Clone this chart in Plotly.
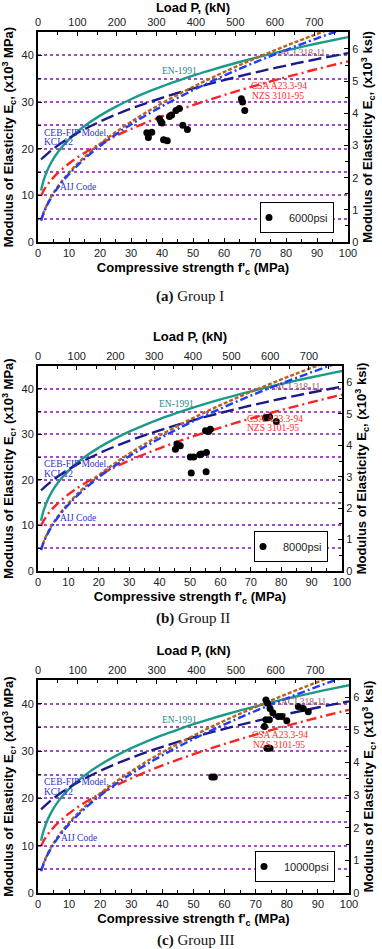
import plotly.graph_objects as go

# ---------------- data ----------------
fc_grid = [1, 1.5, 2, 3, 4, 5, 6, 8, 10, 12, 15, 20, 25, 30, 35, 40, 45, 50,
           55, 60, 65, 70, 75, 80, 85, 90, 95, 100]
aci_318 = [4.70, 5.76, 6.65, 8.14, 9.40, 10.51, 11.51, 13.29, 14.86, 16.28, 18.20,
           21.02, 23.50, 25.74, 27.81, 29.73, 31.53, 33.23, 34.86, 36.41, 37.89,
           39.32, 40.70, 42.04, 43.33, 44.59, 45.81, 47.00]
aij_code = [4.60, 5.63, 6.51, 7.97, 9.20, 10.29, 11.27, 13.01, 14.55, 15.93, 17.82,
            20.57, 23.00, 25.20, 27.21, 29.09, 30.86, 32.53, 34.11, 35.63, 37.09,
            38.49, 39.84, 41.14, 42.41, 43.64, 44.84, 46.00]
csa_nzs = [9.89, 10.61, 11.22, 12.24, 13.10, 13.85, 14.53, 15.74, 16.82, 17.78, 19.09,
           21.01, 22.70, 24.22, 25.63, 26.94, 28.17, 29.32, 30.43, 31.49, 32.50,
           33.47, 34.42, 35.33, 36.20, 37.06, 37.89, 38.70]
ceb_kci = [17.68, 18.00, 18.31, 18.90, 19.46, 19.99, 20.49, 21.42, 22.28, 23.07, 24.17,
           25.81, 27.26, 28.58, 29.78, 30.89, 31.93, 32.90, 33.82, 34.69, 35.52,
           36.32, 37.08, 37.81, 38.51, 39.19, 39.84, 40.48]
en_1991 = [11.03, 12.45, 13.57, 15.33, 16.71, 17.87, 18.87, 20.58, 22.00, 23.24, 24.85,
           27.08, 28.96, 30.59, 32.04, 33.35, 34.54, 35.66, 36.69, 37.66, 38.57,
           39.44, 40.27, 41.05, 41.81, 42.53, 43.23, 43.90]

g1_fc = [35.1, 35.6, 36.7, 39.2, 39.6, 40.0, 40.5, 41.7, 42.4, 43.1, 44.5, 45.6,
         46.7, 48.2, 65.6, 66.0, 66.7]
g1_ec = [23.4, 22.4, 23.5, 26.4, 25.9, 25.5, 21.9, 21.7, 26.9, 27.2, 28.2, 28.6,
         25.0, 24.1, 30.7, 30.0, 28.2]
g2_fc = [45.2, 45.7, 46.8, 50.1, 51.2, 53.2, 53.7, 55.4, 55.1, 56.1, 56.7, 74.8,
         75.5, 76.2, 78.4, 50.4, 55.3]
g2_ec = [26.7, 27.9, 27.5, 25.0, 25.0, 25.5, 25.7, 26.0, 30.8, 30.6, 31.1, 33.6,
         33.7, 33.8, 32.8, 21.5, 21.8]
g3_fc = [73.3, 73.8, 74.6, 75.5, 73.3, 74.4, 77.3, 78.4, 80.0, 83.7, 85.3, 86.9,
         72.8, 73.6, 74.6, 55.9, 56.7]
g3_ec = [40.8, 40.1, 39.0, 38.1, 36.6, 36.6, 37.3, 37.3, 36.4, 39.4, 39.0, 38.3,
         35.2, 30.6, 30.6, 24.5, 24.5]

group_names = ["6000psi", "8000psi", "10000psi"]
caption_letters = ["(a)", "(b)", "(c)"]
caption_groups = ["Group I", "Group II", "Group III"]

fc_max = 100.0          # MPa
load_max = 785.4        # kN (100 MPa on the 100 mm cylinder)
ec_max = 45.0           # x10^3 MPa
mpa_per_ksi = 6.895

# ---------------- layout geometry (pixels) ----------------
W, H = 382, 949
panels = [
    dict(l=38, r=348, t=32, b=242, cap_x=190, cap_y=297, leg_r=334, leg_b=233),
    dict(l=38, r=342, t=366, b=571, cap_x=193, cap_y=618, leg_r=328, leg_b=562),
    dict(l=38, r=349, t=680, b=893, cap_x=195, cap_y=940, leg_r=335, leg_b=882),
]
groups_fc = [g1_fc, g2_fc, g3_fc]
groups_ec = [g1_ec, g2_ec, g3_ec]

SANS = "Liberation Sans Narrow, Arial Narrow, Liberation Sans, Arial"
SERIF = "Liberation Serif, Times New Roman, serif"
GRID = "#a64dc4"

curves = [
    ("EN-1991", en_1991, "#1b9a8c", "solid"),
    ("CEB-FIP Model, KCI-12", ceb_kci, "#1a1a8a", "13px,5px"),
    ("CSA A23.3-94 / NZS 3101-95", csa_nzs, "#ff2222", "10px,4px,2px,4px"),
    ("ACI 318-11", aci_318, "#b8621b", "4px,2px"),
    ("AIJ Code", aij_code, "#1e3cff", "8px,3px,2px,3px"),
]

fig = go.Figure()
layout = dict(width=W, height=H, margin=dict(l=0, r=0, t=0, b=0),
              paper_bgcolor="white", plot_bgcolor="white",
              font=dict(family=SANS, size=11, color="#222"))
annotations = []

for k, p in enumerate(panels):
    xb, xt, yl, yr = 2 * k + 1, 2 * k + 2, 2 * k + 1, 2 * k + 2
    xs = lambda n: "x" if n == 1 else f"x{n}"
    ys = lambda n: "y" if n == 1 else f"y{n}"
    xkey = lambda n: "xaxis" if n == 1 else f"xaxis{n}"
    ykey = lambda n: "yaxis" if n == 1 else f"yaxis{n}"
    dom_x = [p["l"] / W, p["r"] / W]
    dom_y = [1 - p["b"] / H, 1 - p["t"] / H]

    for name, vals, color, dash in curves:
        fig.add_trace(go.Scatter(x=fc_grid, y=vals, mode="lines", name=name,
                                 line=dict(color=color, width=2.4, dash=dash, shape="spline"),
                                 showlegend=False, hoverinfo="skip",
                                 xaxis=xs(xb), yaxis=ys(yl)))
    leg = "legend" if k == 0 else f"legend{k + 1}"
    fig.add_trace(go.Scatter(x=groups_fc[k], y=groups_ec[k], mode="markers",
                             name=group_names[k],
                             marker=dict(color="black", size=7),
                             showlegend=True, legend=leg,
                             xaxis=xs(xb), yaxis=ys(yl)))
    # anchor trace for the secondary (top / right) axes
    fig.add_trace(go.Scatter(x=[None], y=[None], mode="markers", showlegend=False,
                             hoverinfo="skip", xaxis=xs(xt), yaxis=ys(yr)))

    tickfont = dict(family=SANS, size=11, color="#222")
    titlefont = dict(family=SANS, size=13, color="black", weight="bold")
    layout[xkey(xb)] = dict(domain=dom_x, anchor=ys(yl), range=[0, fc_max], dtick=10,
                            ticks="inside", ticklen=4, tickcolor="black",
                            minor=dict(dtick=5, ticks="inside", ticklen=3, tickcolor="black"),
                            showline=True, linecolor="black", linewidth=2, mirror=True,
                            showgrid=False, zeroline=False, tickfont=tickfont,
                            title=dict(text="Compressive strength f'<sub>c</sub> (MPa)",
                                       font=titlefont, standoff=5),
                            automargin=False, fixedrange=True)
    layout[xkey(xt)] = dict(overlaying=xs(xb), anchor=ys(yl), side="top",
                            range=[0, load_max], dtick=100,
                            ticks="inside", ticklen=4, tickcolor="black",
                            minor=dict(dtick=50, ticks="inside", ticklen=3, tickcolor="black"),
                            showline=True, linecolor="black", linewidth=2,
                            showgrid=False, zeroline=False, tickfont=tickfont,
                            title=dict(text="Load P, (kN)", font=titlefont, standoff=5),
                            automargin=False, fixedrange=True)
    layout[ykey(yl)] = dict(domain=dom_y, anchor=xs(xb), range=[0, ec_max], dtick=10,
                            ticks="inside", ticklen=4, tickcolor="black",
                            showgrid=True, gridcolor=GRID, gridwidth=1.5, griddash="dot",
                            minor=dict(dtick=5, ticks="inside", ticklen=3, tickcolor="black",
                                       showgrid=True, gridcolor=GRID, gridwidth=1.5,
                                       griddash="dot"),
                            showline=True, linecolor="black", linewidth=2, mirror=True,
                            zeroline=False, tickfont=tickfont,
                            title=dict(text="Modulus of Elasticity E<sub>c</sub>, (x10<sup>3</sup> MPa)",
                                       font=titlefont, standoff=6),
                            automargin=False, fixedrange=True)
    layout[ykey(yr)] = dict(overlaying=ys(yl), anchor=xs(xb), side="right",
                            range=[0, ec_max / mpa_per_ksi], dtick=1,
                            ticks="inside", ticklen=4, tickcolor="black",
                            minor=dict(dtick=0.5, ticks="inside", ticklen=3, tickcolor="black"),
                            showline=True, linecolor="black", linewidth=2,
                            showgrid=False, zeroline=False, tickfont=tickfont,
                            title=dict(text="Modulus of Elasticity E<sub>c</sub>, (x10<sup>3</sup> ksi)",
                                       font=titlefont, standoff=6),
                            automargin=False, fixedrange=True)

    layout[leg] = dict(x=p["leg_r"] / W, y=1 - p["leg_b"] / H, xanchor="right",
                       yanchor="bottom", bgcolor="white", bordercolor="black",
                       borderwidth=1, font=dict(family=SANS, size=11, color="#222"),
                       itemwidth=30, tracegroupgap=0, indentation=-12)

    def ann(text, x, y, color, xanchor="center"):
        annotations.append(dict(text=text, x=x, y=y, xref=xs(xb), yref=ys(yl),
                                showarrow=False, xanchor=xanchor, yanchor="middle",
                                font=dict(family=SERIF, size=9.5, color=color)))

    ann("EN-1991", 45.5, 36.6, "#2a8a86")
    ann("ACI 318-11", 85.5, 40.4, "#a05868")
    ann("CSA A23.3-94", 77.8, 33.4, "#ff2a2a")
    ann("NZS 3101-95", 77.4, 31.3, "#ff2a2a")
    ann("CEB-FIP Model,", 1.2, 23.4, "#3232c8", "left")
    ann("KCI-12", 1.2, 21.4, "#3232c8", "left")
    ann("AIJ Code", 6.6, 11.7, "#3232c8", "left")

    annotations.append(dict(text=f"<b>{caption_letters[k]}</b> {caption_groups[k]}",
                            x=p["cap_x"] / W, y=1 - p["cap_y"] / H, xref="paper",
                            yref="paper", showarrow=False, xanchor="center",
                            yanchor="middle",
                            font=dict(family=SERIF, size=15, color="#111")))

layout["annotations"] = annotations
fig.update_layout(**layout)
fig.write_html("out.html", config={"displayModeBar": False},
               post_script="document.body.style.margin='0px';"
                           "document.body.style.overflow='hidden';")
